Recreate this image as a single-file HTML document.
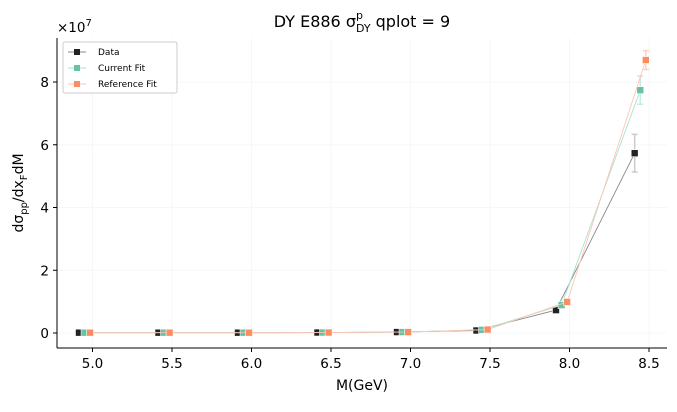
<!DOCTYPE html>
<html><head><meta charset="utf-8"><style>
body{margin:0;background:#fff;font-family:"Liberation Sans","DejaVu Sans",sans-serif}
svg text{font-family:"DejaVu Sans","Liberation Sans",sans-serif}
</style></head><body>
<svg id="c" width="677" height="407" xmlns="http://www.w3.org/2000/svg"></svg>
<script>
const masses=[4.95,5.45,5.95,6.45,6.95,7.45,7.95,8.445];
const dataVals=[0.01,0.01,0.01,0.015,0.03,0.08,0.73,5.73];
const dataErr=[0.01,0.01,0.01,0.01,0.02,0.03,0.06,0.6];
const curVals=[0.01,0.01,0.01,0.015,0.03,0.1,0.89,7.74];
const curErr=[0.005,0.005,0.005,0.005,0.01,0.02,0.05,0.45];
const refVals=[0.01,0.01,0.01,0.015,0.03,0.11,0.99,8.70];
const refErr=[0.005,0.005,0.005,0.005,0.01,0.02,0.05,0.3];
const xTicks=[5.0,5.5,6.0,6.5,7.0,7.5,8.0,8.5];
const yTicks=[0,2,4,6,8];
const svg=document.getElementById('c');
const NS='http://www.w3.org/2000/svg';
const X=v=>92.5+(v-5)*159;
const Y=v=>333-v*31.375;
function mk(t,a,p){const e=document.createElementNS(NS,t);for(const k in a)e.setAttribute(k,a[k]);(p||svg).appendChild(e);return e;}
xTicks.forEach(t=>{const l=mk('line',{x1:X(t),x2:X(t),y1:38,y2:348,stroke:'#f7f7f7','stroke-width':1});});
yTicks.forEach(t=>{const l=mk('line',{x1:57,x2:667,y1:Y(t),y2:Y(t),stroke:'#f7f7f7','stroke-width':1});});
const series=[
 {name:'data',vals:dataVals,err:dataErr,off:-0.035,line:'#888',mark:'#222',ecol:'#ccc'},
 {name:'current-fit',vals:curVals,err:curErr,off:0,line:'#a8e2d3',mark:'#66c2a5',ecol:'#c5ebe0'},
 {name:'reference-fit',vals:refVals,err:refErr,off:0.035,line:'#fcc6b0',mark:'#fc8d62',ecol:'#fdd3c2'}];
series.forEach(s=>{
 const g=mk('g',{});
 const pts=masses.map((m,i)=>X(m+s.off)+','+Y(s.vals[i])).join(' ');
 const pl=mk('polyline',{points:pts,fill:'none',stroke:s.line,'stroke-width':0.9},g);
 
 masses.forEach((m,i)=>{
  const x=X(m+s.off),y1=Y(s.vals[i]+s.err[i]),y2=Y(s.vals[i]-s.err[i]);
  const e=mk('path',{d:`M${x},${y1}V${y2}M${x-3},${y1}H${x+3}M${x-3},${y2}H${x+3}`,stroke:s.ecol,'stroke-width':1.5,fill:'none'},g);
  
  const r=mk('rect',{x:x-3.5,y:Y(s.vals[i])-3.5,width:7,height:7,fill:s.mark,stroke:'#fff','stroke-width':0.6},g);
  
 });
});
let a=mk('line',{x1:57,x2:57,y1:38,y2:348,stroke:'#000','stroke-width':1});
a=mk('line',{x1:57,x2:667,y1:348,y2:348,stroke:'#000','stroke-width':1});
xTicks.forEach(t=>{mk('line',{x1:X(t),x2:X(t),y1:348,y2:352,stroke:'#000'});const tx=mk('text',{x:X(t),y:368,'text-anchor':'middle','font-size':13.5});tx.textContent=t.toFixed(1);});
yTicks.forEach(t=>{mk('line',{x1:53,x2:57,y1:Y(t),y2:Y(t),stroke:'#000'});const tx=mk('text',{x:49,y:Y(t)+5,'text-anchor':'end','font-size':13.5});tx.textContent=t;});
</script>
<script>
const s2=document.getElementById('c');
s2.insertAdjacentHTML('beforeend',`
<text x="57" y="32" font-size="13.5">×10<tspan dy="-6" font-size="10">7</tspan></text>
<text x="362" y="27" text-anchor="middle" font-size="16">DY E886 σ<tspan dy="-8" font-size="11">p</tspan><tspan dx="-7" dy="13" font-size="11">DY</tspan><tspan dy="-5"> qplot = 9</tspan></text>
<text x="362" y="390" text-anchor="middle" font-size="14">M(GeV)</text>
<text transform="translate(23,193) rotate(-90)" text-anchor="middle" font-size="14">dσ<tspan dy="4" font-size="10">pp</tspan><tspan dy="-4">/dx</tspan><tspan dy="4" font-size="10">F</tspan><tspan dy="-4">dM</tspan></text>
<g>
<rect x="63" y="42" width="114" height="51" rx="2" fill="#fff" stroke="#ccc"/>
<line x1="68" x2="86" y1="52" y2="52" stroke="#888"/><rect x="74" y="49" width="6" height="6" fill="#222"/>
<text x="98" y="55" font-size="9">Data</text>
<line x1="68" x2="86" y1="68" y2="68" stroke="#a8e2d3"/><rect x="74" y="65" width="6" height="6" fill="#66c2a5"/>
<text x="98" y="71" font-size="9">Current Fit</text>
<line x1="68" x2="86" y1="84" y2="84" stroke="#fcc6b0"/><rect x="74" y="81" width="6" height="6" fill="#fc8d62"/>
<text x="98" y="87" font-size="9">Reference Fit</text>
</g>`);
</script>
</body></html>
